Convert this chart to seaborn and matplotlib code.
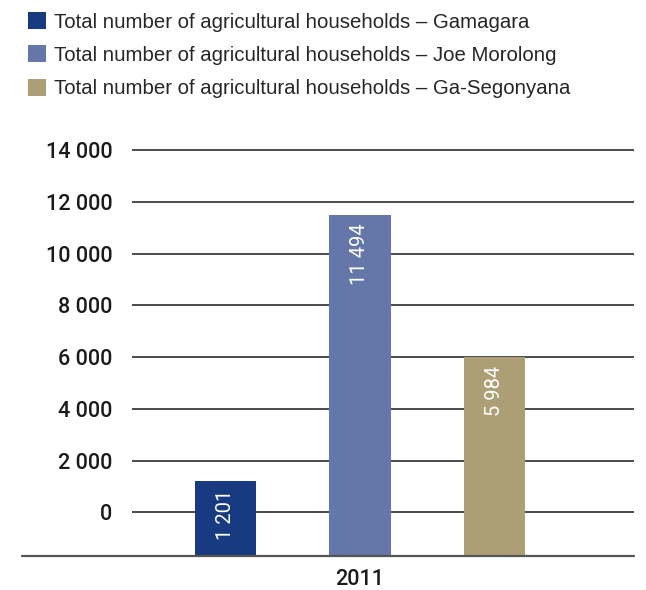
import matplotlib
matplotlib.use("Agg")
import matplotlib.pyplot as plt
import seaborn as sns
import pandas as pd
from matplotlib.ticker import FuncFormatter

# Data
years = ["2011"]
municipalities = ["Gamagara", "Joe Morolong", "Ga-Segonyana"]
households = [1201, 11494, 5984]
series_labels = [f"Total number of agricultural households \u2013 {m}" for m in municipalities]
colors = ["#183a80", "#6477a8", "#ad9f75"]
y_ticks = [0, 2000, 4000, 6000, 8000, 10000, 12000, 14000]

df = pd.DataFrame({
    "year": years * len(municipalities),
    "series": series_labels,
    "households": households,
})

sns.set_theme(style="white")
plt.rcParams["font.family"] = ["Roboto", "DejaVu Sans"]

fig = plt.figure(figsize=(6.46, 5.90), dpi=100)
ax = fig.add_axes([132 / 646, 34.5 / 590, 502 / 646, (555.5 - 145) / 590])

sns.barplot(data=df, x="year", y="households", hue="series",
            palette=colors, width=0.8, gap=0.547, saturation=1,
            linewidth=0, ax=ax, legend=True)

ylo, yhi = -1669, 14193
ax.set_ylim(ylo, yhi)
ax.set_xlim(-0.4512, 0.5423)

# bars rise from the baseline below zero
for cont, val in zip(ax.containers, households):
    for p in cont.patches:
        p.set_y(ylo)
        p.set_height(val - ylo)
        ax.annotate(f"{val:,}".replace(",", " "),
                    (p.get_x() + p.get_width() / 2, val),
                    xytext=(0, -6), textcoords="offset points",
                    rotation=90, ha="center", va="top",
                    color="white", fontsize=14.5)

# horizontal gridlines and baseline
for t in y_ticks:
    ax.axhline(t, xmin=0, xmax=1, color="#1a1a1a", lw=1.1, zorder=0.5)
ax.axhline(ylo, xmin=-0.219, xmax=1, color="#555555", lw=1.6,
           clip_on=False, zorder=3)

for s in ax.spines.values():
    s.set_visible(False)

ax.set_yticks(y_ticks)
ax.yaxis.set_major_formatter(FuncFormatter(lambda v, _: f"{int(v):,}".replace(",", " ")))
ax.tick_params(axis="y", length=0, pad=14, labelsize=15.5, labelcolor="#1a1a1a")
ax.tick_params(axis="x", length=0, pad=10, labelsize=15.5, labelcolor="#1a1a1a")
for lab in ax.get_yticklabels() + ax.get_xticklabels():
    lab.set_fontweight("medium")
ax.set_xlabel("")
ax.set_ylabel("")

handles, labels = ax.get_legend_handles_labels()
ax.get_legend().remove()
fig.legend(handles, labels, loc="upper left",
           bbox_to_anchor=(19.5 / 646, 1 - 4 / 590),
           frameon=False, handlelength=0.9, handleheight=0.9,
           handletextpad=0.4, labelspacing=0.67, borderaxespad=0,
           prop={"family": ["Liberation Sans", "DejaVu Sans"], "size": 14.7})

fig.savefig("out.png", dpi=100, facecolor="white")
